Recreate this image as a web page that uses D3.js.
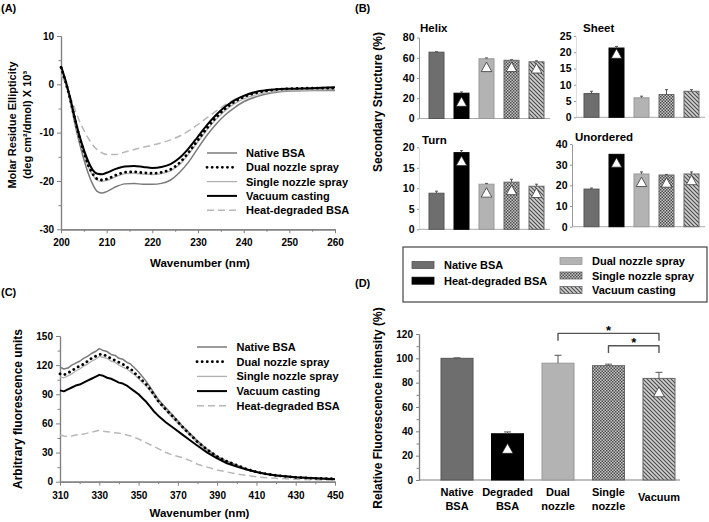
<!DOCTYPE html>
<html><head><meta charset="utf-8">
<script src="https://cdn.jsdelivr.net/npm/d3@7"></script>
<style>
body{margin:0;background:#fff}
svg{display:block}
text{font-family:"Liberation Sans",Arial,sans-serif;font-weight:bold;fill:#000}
</style></head><body>
<svg id="c" width="709" height="522"></svg>
<script>
// ---------------- DATA ----------------
const seriesNames = ["Native BSA","Dual nozzle spray","Single nozzle spray","Vacuum casting","Heat-degraded BSA"];

// Panel A: CD spectra
const cdWavelength = [200,201,202,203,204,205,206,207,208,209,210,212,214,216,218,220,222,224,226,228,230,232,234,236,238,240,243,246,250,255,260];
const cdNative  = [3.5,0.5,-3.5,-8,-12,-15.5,-18.5,-20.8,-22.2,-22.5,-22.2,-21.2,-20.6,-20.5,-20.7,-20.7,-20.5,-19.8,-18.2,-16,-13.2,-10.5,-8.2,-6.3,-4.8,-3.6,-2.5,-1.8,-1.4,-1.3,-1.3];
const cdDual    = [3.5,0.5,-3,-7,-10.8,-14,-16.8,-18.6,-19.6,-19.8,-19.6,-18.8,-18.2,-18.1,-18.3,-18.4,-18.2,-17.6,-16.2,-14,-11.5,-9,-6.8,-5,-3.6,-2.6,-1.7,-1.2,-0.9,-0.8,-0.8];
const cdSingle  = [3.3,0.3,-3.3,-7.3,-11.1,-14.3,-17.1,-18.9,-19.9,-20.1,-19.9,-19.1,-18.5,-18.4,-18.6,-18.7,-18.5,-17.9,-16.6,-14.4,-11.9,-9.4,-7.2,-5.4,-4,-3,-2.1,-1.6,-1.3,-1.2,-1.1];
const cdVacuum  = [3.8,0.8,-2.8,-6.8,-10.5,-13.5,-16,-17.8,-18.5,-18.6,-18.3,-17.5,-17,-16.9,-17.1,-17.3,-17.1,-16.5,-15.2,-13.2,-10.8,-8.4,-6.3,-4.6,-3.3,-2.4,-1.5,-1.1,-0.9,-0.8,-0.6];
const cdHeat    = [2,0,-2.5,-5,-7.5,-9.5,-11.2,-12.6,-13.6,-14.2,-14.5,-14.5,-14,-13.5,-13,-12.6,-12.1,-11.5,-10.7,-9.6,-8.3,-6.9,-5.5,-4.2,-3.1,-2.4,-1.7,-1.3,-1.1,-1,-1];
const cdXTicks = [200,210,220,230,240,250,260];
const cdYTicks = [-30,-20,-10,0,10];

// Panel C: fluorescence spectra
const flWavelength = [310,312,314,316,318,320,322,324,326,328,330,332,334,336,338,340,342,344,346,348,350,352,354,356,358,360,364,368,372,376,380,385,390,395,400,405,410,415,420,430,440,450];
const flNative = [118,116,117,120,122,124,127,129,132,134,137,135,134,131,130,127,126,123,121,117,113,108,103,97,91,85,76,67,58,50,42,33,26,21,17,13,10,8,7,4.5,3.5,3];
const flDual   = [111,110,112,114,117,119,121,124,127,129,131,131,129,127,125,123,121,118,116,112,108,104,100,95,89,83,74,66,57,49,41,33,26,21,17,13,10,8,6.5,4.5,3.5,3];
const flSingle = [108,107,109,111,114,116,119,121,124,126,129,128,127,124,123,120,118,116,113,110,106,102,98,93,88,82,73,64,56,48,40,32,25,20,16,12.5,9.5,7.5,6,4,3,2.5];
const flVacuum = [94,93,95,97,99,100,102,104,106,108,110,109,107,106,104,102,101,99,96,93,90,86,82,77,72,68,61,55,49,43,37,30,24,19,15.5,12.5,10,8,6.5,4.5,3.5,2.5];
const flHeat   = [48,47,46.5,47,48,48.5,49,50,51,52,53,52,51.5,51,50.5,50,49,48,47,45.5,44,42,40,38,36,34,30,27,25,22,18,15,12,10,8,6.5,5,4,3.5,2.5,2,1.5];
const flXTicks = [310,330,350,370,390,410,430,450];
const flYTicks = [0,30,60,90,120,150];

// Panel B: secondary structure (%)
const groups = ["Native BSA","Heat-degraded BSA","Dual nozzle spray","Single nozzle spray","Vacuum casting"];
const helixVals = [65.5,25,59,57.5,56];
const helixErr  = [0.5,1.2,0.8,0.5,1];
const helixTri  = [null,16.7,51,51,49.6];
const sheetVals = [7.3,21.3,6,7,8];
const sheetErr  = [0.7,0.5,0.5,1.5,0.5];
const sheetTri  = [null,19.6,null,null,null];
const turnVals  = [8.8,18.7,11,11.5,10.5];
const turnErr   = [0.5,0.5,0.2,0.7,0.5];
const turnTri   = [null,16.7,9,9.6,8.9];
const unordVals = [18.2,35,25.5,25,25.5];
const unordErr  = [0.5,0,1,0.3,1];
const unordTri  = [null,31.1,21.7,21.4,22.6];
const helixTicks = [0,20,40,60,80];
const sheetTicks = [0,5,10,15,20,25];
const turnTicks  = [0,5,10,15,20];
const unordTicks = [0,10,20,30,40];

// Panel D: relative fluorescence intensity (%)
const dCategories = [["Native","BSA"],["Degraded","BSA"],["Dual","nozzle"],["Single","nozzle"],["Vacuum"]];
const dVals = [100,38,96,94,83.5];
const dErr  = [0.4,1.5,6.5,1.2,5];
const dTri  = [null,26,null,null,72.5];
const dTicks = [0,20,40,60,80,100,120];
const dBrackets = [{from:2,to:4,level:120.5,leg:114.4},{from:3,to:4,level:110.4,leg:104.4}];

// ---------------- DRAW ----------------
const svg = d3.select("#c");
const defs = svg.append("defs");
const chk = defs.append("pattern").attr("id","chk").attr("width",3).attr("height",3).attr("patternUnits","userSpaceOnUse");
chk.append("rect").attr("width",3).attr("height",3).attr("fill","#c6c6c6");
chk.append("rect").attr("width",1.5).attr("height",1.5).attr("fill","#4d4d4d");
chk.append("rect").attr("x",1.5).attr("y",1.5).attr("width",1.5).attr("height",1.5).attr("fill","#4d4d4d");
const hat = defs.append("pattern").attr("id","hat").attr("width",4).attr("height",4).attr("patternUnits","userSpaceOnUse");
hat.append("rect").attr("width",4).attr("height",4).attr("fill","#d0d0d0");
hat.append("path").attr("d","M-1,-1L5,5M-1,3L1,5M3,-1L5,1").attr("stroke","#4a4a4a").attr("stroke-width",1.1);

const groupFill = ["#6e6e6e","#000","#b3b3b3","url(#chk)","url(#hat)"];
const groupStroke = ["#555","#000","#999","#666","#666"];

const lineStyle = [
  {stroke:"#7a7a7a", w:1.5, dash:null, cap:"butt"},     // native
  {stroke:"#000", w:2.8, dash:"0.1 5", cap:"round"},     // dual
  {stroke:"#b0b0b0", w:1.3, dash:null, cap:"butt"},     // single
  {stroke:"#000", w:2, dash:null, cap:"butt"},          // vacuum
  {stroke:"#b8b8b8", w:1.5, dash:"7 4", cap:"butt"}      // heat
];
const drawOrder = [4,0,2,3,1];

function styleAxis(g, fs){
  g.attr("font-size", fs||10);
  g.select(".domain").attr("stroke","#808080").attr("stroke-width",1.2);
  g.selectAll(".tick line").attr("stroke","#808080").attr("stroke-width",1);
}

function text(x,y,str,size,anchor){
  return svg.append("text").attr("x",x).attr("y",y).attr("font-size",size).attr("text-anchor",anchor||"start").text(str);
}
function vtext(x,y,str,size){
  return svg.append("text").attr("transform",`translate(${x},${y}) rotate(-90)`).attr("dy","0.35em")
    .attr("font-size",size).attr("text-anchor","middle").text(str);
}

function linePanel(o){
  const x = d3.scaleLinear().domain(o.xDomain).range(o.xRange);
  const y = d3.scaleLinear().domain(o.yDomain).range(o.yRange);
  const g = svg.append("g");
  g.append("g").attr("transform",`translate(0,${o.yRange[0]})`)
    .call(d3.axisBottom(x).tickValues(o.xMinor).tickSize(2.5).tickSizeOuter(0).tickFormat("")).call(styleAxis);
  g.append("g").attr("transform",`translate(${o.xRange[0]},0)`)
    .call(d3.axisLeft(y).tickValues(o.yMinor).tickSize(2.5).tickSizeOuter(0).tickFormat("")).call(styleAxis);
  g.append("g").attr("transform",`translate(0,${o.yRange[0]})`)
    .call(d3.axisBottom(x).tickValues(o.xTicks).tickSize(4).tickPadding(6).tickSizeOuter(0).tickFormat(d=>String(d))).call(styleAxis);
  g.append("g").attr("transform",`translate(${o.xRange[0]},0)`)
    .call(d3.axisLeft(y).tickValues(o.yTicks).tickSize(4).tickPadding(3).tickSizeOuter(0).tickFormat(d=>String(d))).call(styleAxis);
  const line = d3.line().x((d,i)=>x(o.xs[i])).y(d=>y(d)).curve(o.curve);
  drawOrder.forEach(k=>{
    const s = lineStyle[k];
    g.append("path").attr("d",line(o.series[k])).attr("fill","none").attr("stroke",s.stroke)
      .attr("stroke-width",s.w).attr("stroke-dasharray",s.dash).attr("stroke-linecap",s.cap).attr("stroke-linejoin","round");
  });
  // legend
  seriesNames.forEach((n,i)=>{
    const s = lineStyle[i];
    const yy = o.leg.y + i*o.leg.dy;
    g.append("line").attr("x1",o.leg.x1).attr("x2",o.leg.x2).attr("y1",yy).attr("y2",yy)
      .attr("stroke",s.stroke).attr("stroke-width",s.w).attr("stroke-dasharray",s.dash).attr("stroke-linecap",s.cap);
    text(o.leg.tx, yy+4, n, 11);
  });
}

linePanel({xDomain:[200,260], xRange:[61,335], yDomain:[-30,10], yRange:[229.3,36],
  xTicks:cdXTicks, yTicks:cdYTicks, xMinor:d3.range(205,260,10), yMinor:d3.range(-25,10,10),
  xs:cdWavelength, series:[cdNative,cdDual,cdSingle,cdVacuum,cdHeat], curve:d3.curveMonotoneX,
  leg:{x1:207,x2:237,tx:246,y:153,dy:14.3}});
text(200,267,"Wavenumber (nm)",11.5,"middle");
vtext(12,125,"Molar Residue Ellipticity",11);
vtext(27,125,"(deg cm²/dmol) X 10³",11);
text(1,12,"(A)",11);

linePanel({xDomain:[310,450], xRange:[60,335], yDomain:[0,150], yRange:[481.7,336],
  xTicks:flXTicks, yTicks:flYTicks, xMinor:d3.range(320,450,20), yMinor:d3.range(15,150,30),
  xs:flWavelength, series:[flNative,flDual,flSingle,flVacuum,flHeat], curve:d3.curveLinear,
  leg:{x1:197,x2:227,tx:236.5,y:347,dy:14.7}});
text(199.5,517,"Wavenumber (nm)",11.5,"middle");
vtext(18,409,"Arbitrary fluorescence units",12);
text(1,296,"(C)",11);

// bar helpers
function triPath(cx,cy,w,h){
  return `M${cx-w/2},${cy+h/2}L${cx},${cy-h/2}L${cx+w/2},${cy+h/2}Z`;
}
function drawBars(g,x,y,vals,errs,tris,capW,triW){
  const bw = x.bandwidth();
  vals.forEach((v,i)=>{
    g.append("rect").attr("x",x(i)).attr("width",bw).attr("y",y(v)).attr("height",y(0)-y(v))
      .attr("fill",groupFill[i]).attr("stroke",groupStroke[i]).attr("stroke-width",1);
    const cx = x(i)+bw/2;
    if(errs[i]>0){
      g.append("line").attr("x1",cx).attr("x2",cx).attr("y1",y(v)).attr("y2",y(v+errs[i])).attr("stroke","#555").attr("stroke-width",1);
      g.append("line").attr("x1",cx-capW/2).attr("x2",cx+capW/2).attr("y1",y(v+errs[i])).attr("y2",y(v+errs[i])).attr("stroke","#555").attr("stroke-width",1);
    }
    if(tris[i]!=null){
      g.append("path").attr("d",triPath(cx,y(tris[i]),triW,triW*0.9)).attr("fill","#fff").attr("stroke","#222").attr("stroke-width",0.7);
    }
  });
}

function subPanel(o){
  const g = svg.append("g");
  const x = d3.scaleBand().domain(d3.range(5)).range([o.r0,o.r0+125]).paddingInner(0.4).paddingOuter(0.2);
  const y = d3.scaleLinear().domain([0,o.ticks[o.ticks.length-1]]).range(o.yRange);
  const ax = g.append("g").attr("transform",`translate(${o.axisX},0)`)
    .call(d3.axisLeft(y).tickValues(o.ticks).tickSize(2).tickPadding(2.5).tickSizeOuter(0).tickFormat(d=>String(d)));
  styleAxis(ax,10.5);
  ax.select(".domain").attr("stroke",o.axisColor).attr("stroke-width",1);
  ax.selectAll(".tick line").attr("stroke","#999");
  g.append("line").attr("x1",o.axisX).attr("x2",o.r0+126).attr("y1",o.yRange[0]).attr("y2",o.yRange[0]).attr("stroke","#aaa").attr("stroke-width",1);
  drawBars(g,x,y,o.vals,o.err,o.tri,3,10.5);
  text(o.tx,o.ty,o.title,11.5);
}
subPanel({r0:424,axisX:419,yRange:[118.5,37.5],ticks:helixTicks,vals:helixVals,err:helixErr,tri:helixTri,title:"Helix",tx:420,ty:32,axisColor:"#999"});
subPanel({r0:579,axisX:576,yRange:[117.3,36],ticks:sheetTicks,vals:sheetVals,err:sheetErr,tri:sheetTri,title:"Sheet",tx:583,ty:32,axisColor:"#e0e0e0"});
subPanel({r0:424,axisX:419,yRange:[229.3,147.3],ticks:turnTicks,vals:turnVals,err:turnErr,tri:turnTri,title:"Turn",tx:422,ty:144,axisColor:"#e0e0e0"});
subPanel({r0:579,axisX:572,yRange:[226.7,144],ticks:unordTicks,vals:unordVals,err:unordErr,tri:unordTri,title:"Unordered",tx:575,ty:141,axisColor:"#999"});
vtext(378,102,"Secondary Structure (%)",12);
text(355,12,"(B)",11);

// legend B
svg.append("rect").attr("x",403).attr("y",247).attr("width",304).attr("height",55).attr("fill","#fff").attr("stroke","#444").attr("stroke-width",1.2);
const legPos = [{x:412,y:265},{x:412,y:280.7},{x:560,y:261},{x:560,y:275.5},{x:560,y:290}];
groups.forEach((n,i)=>{
  const p = legPos[i];
  svg.append("rect").attr("x",p.x).attr("y",p.y-3.5).attr("width",22).attr("height",7).attr("fill",groupFill[i]).attr("stroke",groupStroke[i]).attr("stroke-width",0.8);
  text(p.x+32,p.y+4,n,11);
});

// Panel D
{
  const g = svg.append("g");
  const x = d3.scaleBand().domain(d3.range(5)).range([419,697]).paddingInner(0.366).paddingOuter(0.436);
  const y = d3.scaleLinear().domain([0,120]).range([480,334]);
  const minor = g.append("g").attr("transform","translate(419,0)")
    .call(d3.axisLeft(y).tickValues(d3.range(10,120,20)).tickSize(2.5).tickSizeOuter(0).tickFormat(""));
  styleAxis(minor);
  const ax = g.append("g").attr("transform","translate(419,0)")
    .call(d3.axisLeft(y).tickValues(dTicks).tickSize(3).tickPadding(3).tickSizeOuter(0).tickFormat(d=>String(d)));
  styleAxis(ax,10);
  g.append("line").attr("x1",419).attr("x2",680).attr("y1",y(0)).attr("y2",y(0)).attr("stroke","#808080").attr("stroke-width",1.2);
  drawBars(g,x,y,dVals,dErr,dTri,7,11);
  const bw = x.bandwidth();
  dCategories.forEach((c,i)=>{
    const cx = x(i)+bw/2;
    if(c.length===2){
      text(cx,496,c[0],11,"middle");
      text(cx,510,c[1],11,"middle");
    } else text(cx,501,c[0],11,"middle");
  });
  dBrackets.forEach(b=>{
    const x1 = x(b.from)+bw/2, x2 = x(b.to)+bw/2;
    g.append("path").attr("d",`M${x1},${y(b.leg)}L${x1},${y(b.level)}L${x2},${y(b.level)}L${x2},${y(b.leg)}`)
      .attr("fill","none").attr("stroke","#555").attr("stroke-width",1.4).attr("stroke-linejoin","round");
    text((x1+x2)/2,y(b.level)+1.5,"*",13,"middle");
  });
  vtext(378,408,"Relative Fluorescence intensity (%)",12);
  text(355,287,"(D)",11);
}
</script></body></html>
